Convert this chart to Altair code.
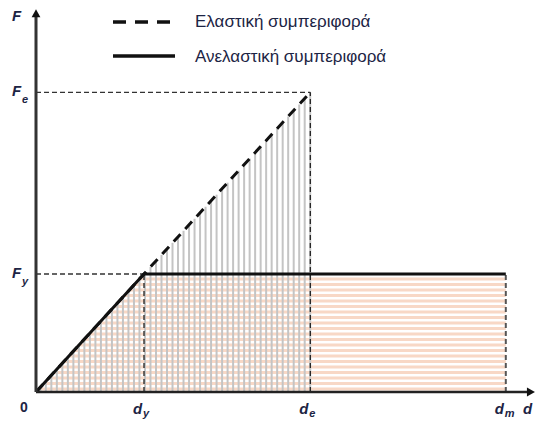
import altair as alt
import pandas as pd

# ---- values (arbitrary units: d_y = 1, F_y = 1) ----
d_y, d_e, d_m = 1.0, 2.54, 4.35
F_y, F_e = 1.0, 2.54

elastic_d = [0.0, d_e]
elastic_F = [0.0, F_e]
inelastic_d = [0.0, d_y, d_m]
inelastic_F = [0.0, F_y, F_y]

x_tick_vals = [d_y, d_e, d_m]
x_tick_subs = ["y", "e", "m"]
y_tick_vals = [F_e, F_y]
y_tick_subs = ["e", "y"]

legend_labels = ["Ελαστική συμπεριφορά", "Ανελαστική συμπεριφορά"]

x_axis_end = 4.583
y_axis_end = 3.21

# ---- layout ----
W, H = 528, 412
xs = alt.Scale(domain=[-28 / 108, 500 / 108], nice=False, zero=False)
ys = alt.Scale(domain=[-28 / 118, 384 / 118], nice=False, zero=False)
TXT = "#1c2444"
FONT = "Liberation Sans"


def X(f):
    return alt.X(f, type="quantitative", scale=xs, axis=None)


def Y(f):
    return alt.Y(f, type="quantitative", scale=ys, axis=None)


# hatching of the inelastic area (horizontal peach bands)
peach = (
    alt.Chart(alt.sequence(0.025, F_y, 0.0466, as_="v"))
    .transform_calculate(xa=f"datum.v*{d_y}/{F_y}", xb=f"{d_m}", yv="datum.v")
    .mark_rule(color="#f8d8c6", strokeWidth=3)
    .encode(x=X("xa"), x2="xb:Q", y=Y("yv"))
)

# hatching of the elastic area (vertical gray lines)
gray = (
    alt.Chart(alt.sequence(0.04, d_e, 0.051, as_="v"))
    .transform_calculate(xv="datum.v", ya="0", yb=f"datum.v*{F_e}/{d_e}")
    .mark_rule(color="#c4c4c4", strokeWidth=2)
    .encode(x=X("xv"), y=Y("ya"), y2="yb:Q")
)

# thin dashed reference lines
ref_h = pd.DataFrame({"x": [0.0, 0.0], "x2": [d_e, d_y], "y": [F_e, F_y]})
ref_v = pd.DataFrame({"x": [d_e, d_y], "y": [0.0, 0.0], "y2": [F_e, F_y]})
ref_m = pd.DataFrame({"x": [d_m], "y": [0.0], "y2": [F_y]})

refh = alt.Chart(ref_h).mark_rule(color="#333333", strokeWidth=1.3, strokeDash=[5, 3]).encode(
    x=X("x"), x2="x2:Q", y=Y("y"))
refv = alt.Chart(ref_v).mark_rule(color="#222222", strokeWidth=1.3, strokeDash=[5, 3]).encode(
    x=X("x"), y=Y("y"), y2="y2:Q")
refm = alt.Chart(ref_m).mark_rule(color="#555555", strokeWidth=2, strokeDash=[5, 3]).encode(
    x=X("x"), y=Y("y"), y2="y2:Q")

el_df = pd.DataFrame({"d": elastic_d, "F": elastic_F})
inel_df = pd.DataFrame({"d": inelastic_d, "F": inelastic_F, "o": list(range(len(inelastic_d)))})

elastic = alt.Chart(el_df).mark_line(color="#111111", strokeWidth=3, strokeDash=[10, 7]).encode(
    x=X("d"), y=Y("F"))
inelastic = alt.Chart(inel_df).mark_line(color="#111111", strokeWidth=3).encode(
    x=X("d"), y=Y("F"), order="o:Q")

# axes with arrows
xax = alt.Chart(pd.DataFrame({"x": [0.0], "x2": [x_axis_end], "y": [0.0]})).mark_rule(
    color="#222222", strokeWidth=2.5).encode(x=X("x"), x2="x2:Q", y=Y("y"))
yax = alt.Chart(pd.DataFrame({"x": [0.0], "y": [0.0], "y2": [y_axis_end]})).mark_rule(
    color="#333333", strokeWidth=3).encode(x=X("x"), y=Y("y"), y2="y2:Q")
xarrow = alt.Chart(pd.DataFrame({"x": [x_axis_end], "y": [0.0]})).mark_point(
    shape="M1,0L-1,1.1L-1,-1.1Z", filled=True, color="#111111", size=64, opacity=1).encode(
    x=X("x"), y=Y("y"))
yarrow = alt.Chart(pd.DataFrame({"x": [0.0], "y": [y_axis_end]})).mark_point(
    shape="M0,-1L1.1,1L-1.1,1Z", filled=True, color="#111111", size=64, opacity=1).encode(
    x=X("x"), y=Y("y"))

# tick labels
xt = pd.DataFrame({"x": x_tick_vals, "y": [0.0] * 3, "main": ["d"] * 3, "sub": x_tick_subs})
yt = pd.DataFrame({"x": [0.0] * 2, "y": y_tick_vals, "main": ["F"] * 2, "sub": y_tick_subs})

lab_kw = dict(font=FONT, fontStyle="italic", fontWeight="bold", color=TXT, align="left",
              baseline="alphabetic")
xt_main = alt.Chart(xt).mark_text(fontSize=15, dx=-11, dy=22, **lab_kw).encode(
    x=X("x"), y=Y("y"), text="main:N")
xt_sub = alt.Chart(xt).mark_text(fontSize=11, dx=-1, dy=25, **lab_kw).encode(
    x=X("x"), y=Y("y"), text="sub:N")
yt_main = alt.Chart(yt).mark_text(fontSize=15, dx=-24, dy=4, **lab_kw).encode(
    x=X("x"), y=Y("y"), text="main:N")
yt_sub = alt.Chart(yt).mark_text(fontSize=11, dx=-14, dy=11, **lab_kw).encode(
    x=X("x"), y=Y("y"), text="sub:N")

titles = pd.DataFrame({"x": [0.0, x_axis_end], "y": [y_axis_end, 0.0], "t": ["F", "d"]})
tF = alt.Chart(titles.iloc[[0]]).mark_text(fontSize=15, dx=-24, dy=8, **lab_kw).encode(
    x=X("x"), y=Y("y"), text="t:N")
tD = alt.Chart(titles.iloc[[1]]).mark_text(fontSize=15, dx=-8, dy=22, **lab_kw).encode(
    x=X("x"), y=Y("y"), text="t:N")
zero = alt.Chart(pd.DataFrame({"x": [0.0], "y": [0.0], "t": ["0"]})).mark_text(
    font=FONT, fontWeight="bold", fontSize=14, color=TXT, align="left", baseline="alphabetic",
    dx=-16, dy=20).encode(x=X("x"), y=Y("y"), text="t:N")

# legend
leg_dash = alt.Chart(pd.DataFrame({"t": [legend_labels[0]]})).mark_rule(
    color="#111111", strokeWidth=3.5, strokeDash=[13, 9]).encode(
    x=alt.value(105), x2=alt.value(167), y=alt.value(14))
leg_solid = alt.Chart(pd.DataFrame({"t": [legend_labels[1]]})).mark_rule(
    color="#111111", strokeWidth=3.5).encode(
    x=alt.value(105), x2=alt.value(167), y=alt.value(48))
leg_t1 = alt.Chart(pd.DataFrame({"t": [legend_labels[0]]})).mark_text(
    font=FONT, fontSize=17, color=TXT, align="left", baseline="middle").encode(
    x=alt.value(187), y=alt.value(14), text="t:N")
leg_t2 = alt.Chart(pd.DataFrame({"t": [legend_labels[1]]})).mark_text(
    font=FONT, fontSize=17, color=TXT, align="left", baseline="middle").encode(
    x=alt.value(187), y=alt.value(49), text="t:N")

chart = alt.layer(
    peach, gray, refh, refv, refm, elastic, inelastic,
    xax, yax, xarrow, yarrow,
    xt_main, xt_sub, yt_main, yt_sub, tF, tD, zero,
    leg_dash, leg_solid, leg_t1, leg_t2,
).properties(width=W, height=H, padding=0, autosize="none").configure_view(stroke=None)

chart.save("out.html", embed_options={"renderer": "svg", "actions": False})
